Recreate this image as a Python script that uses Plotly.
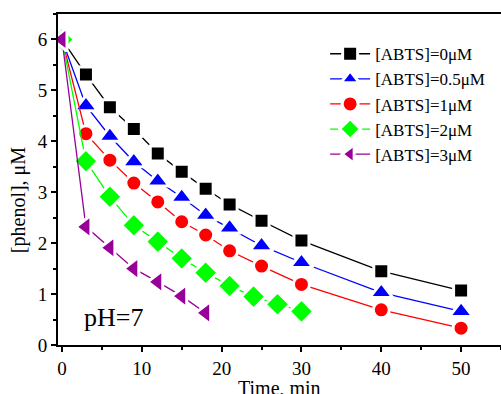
import plotly.graph_objects as go

t_main = [0, 3, 6, 9, 12, 15, 18, 21, 25, 30, 40, 50]
abts0 = [6.0, 5.31, 4.67, 4.24, 3.76, 3.40, 3.07, 2.76, 2.44, 2.05, 1.45, 1.07]
abts05 = [6.0, 4.70, 4.10, 3.60, 3.22, 2.90, 2.55, 2.30, 1.95, 1.62, 1.03, 0.66]
abts1 = [6.0, 4.15, 3.63, 3.18, 2.81, 2.42, 2.16, 1.85, 1.55, 1.19, 0.69, 0.33]
t_green = [0, 3, 6, 9, 12, 15, 18, 21, 24, 27, 30]
abts2 = [6.0, 3.61, 2.91, 2.35, 2.03, 1.70, 1.42, 1.16, 0.95, 0.80, 0.66]
t_purple = [0, 3, 6, 9, 12, 15, 18]
abts3 = [6.0, 2.32, 1.91, 1.50, 1.24, 0.96, 0.63]

names = ["[ABTS]=0\u03bcM", "[ABTS]=0.5\u03bcM", "[ABTS]=1\u03bcM",
         "[ABTS]=2\u03bcM", "[ABTS]=3\u03bcM"]

series = [
    (t_main, abts0, "black", "square", 15),
    (t_main, abts05, "blue", "triangle-up", 20),
    (t_main, abts1, "red", "circle", 16),
    (t_green, abts2, "#00ff00", "diamond", 19),
    (t_purple, abts3, "#990099", "triangle-left", 20),
]

FONT = "Liberation Serif"
fig = go.Figure()
for (x, y, c, sym, sz), nm in zip(series, names):
    fig.add_trace(go.Scatter(
        x=x, y=y, name=nm, mode="lines+markers",
        line=dict(color=c, width=1.3),
        marker=dict(symbol=sym, size=sz, color=c,
                    line=dict(color="white", width=3)),
    ))

fig.add_annotation(x=0.126, y=0.082, xref="paper", yref="paper",
                   text="pH=7", showarrow=False, xanchor="center", yanchor="middle",
                   font=dict(family=FONT, size=26, color="black"))
fig.add_annotation(x=0.50, y=-0.129, xref="paper", yref="paper",
                   text="Time, min", showarrow=False, xanchor="center", yanchor="middle",
                   font=dict(family=FONT, size=20, color="black"))
fig.add_annotation(x=-0.090, y=0.438, xref="paper", yref="paper",
                   text="[phenol], \u03bcM", showarrow=False, textangle=-90,
                   xanchor="center", yanchor="middle",
                   font=dict(family=FONT, size=20, color="black"))

axis_common = dict(
    showline=True, linecolor="black", linewidth=2,
    ticks="outside", ticklen=5, tickwidth=1.5, tickcolor="black",
    showgrid=False, zeroline=False, automargin=False,
    tickfont=dict(family=FONT, size=19, color="black"),
)
fig.update_xaxes(range=[-0.5, 55], dtick=10, tick0=0, mirror=True,
                 minor=dict(dtick=5, ticks="outside", ticklen=3, tickwidth=1.5, tickcolor="black"),
                 **axis_common)
fig.update_yaxes(range=[0, 6.5], dtick=1, tick0=0,
                 minor=dict(dtick=0.5, ticks="outside", ticklen=3, tickwidth=1.5, tickcolor="black"),
                 **axis_common)

fig.update_layout(
    width=501, height=394,
    margin=dict(l=58, r=0, t=14, b=49),
    plot_bgcolor="white", paper_bgcolor="white",
    font=dict(family=FONT, size=17, color="black"),
    legend=dict(x=0.603, y=0.933, xanchor="left", yanchor="top",
                bgcolor="rgba(0,0,0,0)", tracegroupgap=0,
                font=dict(family=FONT, size=17, color="black"),
                itemwidth=40),
    showlegend=True,
)

fig.write_html("out.html", config={"displayModeBar": False},
               post_script="document.body.style.margin='0';document.body.style.overflow='hidden';")
